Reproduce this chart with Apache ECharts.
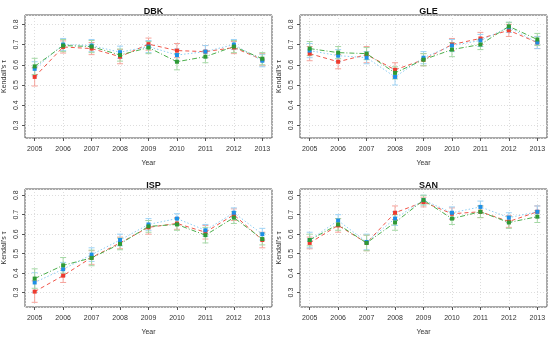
<!DOCTYPE html>
<html><head><meta charset="utf-8">
<script src="https://cdn.jsdelivr.net/npm/echarts@6/dist/echarts.min.js"></script>
<style>html,body{margin:0;padding:0;background:#fff}#c{width:550px;height:337px}</style>
</head><body><div id="c"></div>
<script>
const years = [2005,2006,2007,2008,2009,2010,2011,2012,2013];
const panelNames = ['DBK','GLE','ISP','SAN'];
const yTicks = [0.3,0.4,0.5,0.6,0.7,0.8];

// DBK
const dbkRed   = [0.540,0.688,0.680,0.640,0.702,0.670,0.665,0.685,0.625];
const dbkGreen = [0.592,0.695,0.690,0.648,0.685,0.615,0.640,0.690,0.630];
const dbkBlue  = [0.580,0.700,0.695,0.662,0.690,0.648,0.665,0.700,0.620];
const dbkRedErr   = [0.045,0.030,0.030,0.035,0.030,0.035,0.030,0.030,0.030];
const dbkGreenErr = [0.040,0.030,0.030,0.030,0.030,0.040,0.030,0.030,0.030];
const dbkBlueErr  = [0.035,0.030,0.030,0.030,0.030,0.030,0.030,0.025,0.030];
// GLE
const gleRed   = [0.655,0.615,0.650,0.575,0.625,0.700,0.730,0.770,0.710];
const gleGreen = [0.680,0.660,0.655,0.560,0.625,0.675,0.700,0.790,0.725];
const gleBlue  = [0.670,0.645,0.635,0.540,0.635,0.695,0.720,0.785,0.710];
const gleRedErr   = [0.035,0.035,0.040,0.035,0.030,0.030,0.030,0.030,0.030];
const gleGreenErr = [0.035,0.030,0.030,0.030,0.030,0.035,0.025,0.020,0.030];
const gleBlueErr  = [0.035,0.030,0.030,0.040,0.030,0.030,0.030,0.025,0.030];
// ISP
const ispRed   = [0.305,0.387,0.480,0.555,0.635,0.655,0.610,0.700,0.570];
const ispGreen = [0.372,0.440,0.478,0.550,0.640,0.650,0.595,0.685,0.575];
const ispBlue  = [0.352,0.420,0.495,0.570,0.650,0.680,0.620,0.710,0.600];
const ispRedErr   = [0.055,0.035,0.035,0.030,0.035,0.030,0.035,0.030,0.040];
const ispGreenErr = [0.050,0.040,0.040,0.030,0.030,0.030,0.040,0.030,0.030];
const ispBlueErr  = [0.050,0.035,0.035,0.030,0.030,0.025,0.030,0.025,0.030];
// SAN
const sanRed   = [0.555,0.645,0.555,0.710,0.765,0.705,0.715,0.665,0.715];
const sanGreen = [0.570,0.650,0.555,0.660,0.775,0.680,0.715,0.660,0.690];
const sanBlue  = [0.570,0.670,0.560,0.680,0.775,0.710,0.740,0.685,0.715];
const sanRedErr   = [0.030,0.035,0.040,0.035,0.025,0.030,0.030,0.030,0.030];
const sanGreenErr = [0.030,0.030,0.040,0.040,0.025,0.030,0.030,0.030,0.030];
const sanBlueErr  = [0.040,0.030,0.040,0.035,0.025,0.030,0.030,0.025,0.030];

const panels = [
  {red:dbkRed,green:dbkGreen,blue:dbkBlue,redErr:dbkRedErr,greenErr:dbkGreenErr,blueErr:dbkBlueErr},
  {red:gleRed,green:gleGreen,blue:gleBlue,redErr:gleRedErr,greenErr:gleGreenErr,blueErr:gleBlueErr},
  {red:ispRed,green:ispGreen,blue:ispBlue,redErr:ispRedErr,greenErr:ispGreenErr,blueErr:ispBlueErr},
  {red:sanRed,green:sanGreen,blue:sanBlue,redErr:sanRedErr,greenErr:sanGreenErr,blueErr:sanBlueErr}
];

const styles = {
  red:   {line:'#F0564A', mark:'#EE3B2E', err:'#F5A39B', dash:[4,3]},
  blue:  {line:'#8DCDF2', mark:'#1E8FE6', err:'#9ED3F5', dash:[1.5,2]},
  green: {line:'#4DAF4D', mark:'#2E9A35', err:'#A5D8A5', dash:[5,2,1,2]}
};
const order = ['red','blue','green'];

const gridPos = [
  {left:25, top:15, width:247, height:123},
  {left:300, top:15, width:247, height:123},
  {left:25, top:189, width:247, height:122},
  {left:300, top:189, width:247, height:122}
];
const yRanges = [[0.238,0.846],[0.238,0.846],[0.226,0.832],[0.226,0.832]];

const grids=[], xAxes=[], yAxes=[], titles=[], series=[];
gridPos.forEach((g,i)=>{
  grids.push(Object.assign({show:true,borderColor:'#555',borderWidth:1,backgroundColor:'transparent'},g));
  titles.push({text:panelNames[i], left:g.left+g.width/2, top:g.top-13, textAlign:'center',
    textStyle:{fontSize:9,fontWeight:'bold',color:'#111',fontFamily:'Liberation Sans'}});
  xAxes.push({type:'value', gridIndex:i, min:2004.66, max:2013.34, minInterval:1, maxInterval:1,
    name:'Year', nameLocation:'middle', nameGap:22, nameTextStyle:{fontSize:7,color:'#333',fontFamily:'Liberation Sans'},
    axisLine:{show:false}, axisTick:{show:true,length:3,lineStyle:{color:'#555'}},
    axisLabel:{fontSize:7,color:'#333',margin:8,showMinLabel:false,showMaxLabel:false,fontFamily:'Liberation Sans',
      formatter:v=>String(Math.round(v))},
    splitLine:{show:true,lineStyle:{color:'#ddd',type:[1,2],width:1}}});
  yAxes.push({type:'value', gridIndex:i, min:yRanges[i][0], max:yRanges[i][1], minInterval:0.1, maxInterval:0.1,
    name:"Kendall's τ", nameLocation:'middle', nameGap:17, nameTextStyle:{fontSize:7,color:'#333',fontFamily:'Liberation Sans'},
    axisLine:{show:false}, axisTick:{show:true,length:3,lineStyle:{color:'#555'}},
    axisLabel:{fontSize:7,color:'#333',rotate:90,margin:5,showMinLabel:false,showMaxLabel:false,fontFamily:'Liberation Sans',
      formatter:v=>v.toFixed(1)},
    splitLine:{show:true,lineStyle:{color:'#ddd',type:[1,2],width:1}}});
  const p = panels[i];
  order.forEach(c=>{
    const vals=p[c], errs=p[c+'Err'], st=styles[c];
    series.push({type:'custom', xAxisIndex:i, yAxisIndex:i, z:2,
      data: years.map((y,k)=>[y, vals[k]-errs[k], vals[k]+errs[k]]),
      renderItem:(params,api)=>{
        const lo=api.coord([api.value(0),api.value(1)]);
        const hi=api.coord([api.value(0),api.value(2)]);
        const w=3;
        const s={stroke:st.err,lineWidth:1};
        return {type:'group',children:[
          {type:'line',shape:{x1:lo[0],y1:lo[1],x2:hi[0],y2:hi[1]},style:s},
          {type:'line',shape:{x1:lo[0]-w,y1:lo[1],x2:lo[0]+w,y2:lo[1]},style:s},
          {type:'line',shape:{x1:hi[0]-w,y1:hi[1],x2:hi[0]+w,y2:hi[1]},style:s}
        ]};
      }});
  });
  order.forEach(c=>{
    const st=styles[c];
    series.push({type:'line', xAxisIndex:i, yAxisIndex:i, z:3,
      data: years.map((y,k)=>[y,p[c][k]]),
      symbol:'rect', symbolSize:4, showSymbol:true,
      itemStyle:{color:st.mark},
      lineStyle:{color:st.line,width:1,type:st.dash},
      animation:false});
  });
});

const chart = echarts.init(document.getElementById('c'));
chart.setOption({animation:false, title:titles, grid:grids, xAxis:xAxes, yAxis:yAxes, series:series});
</script></body></html>
